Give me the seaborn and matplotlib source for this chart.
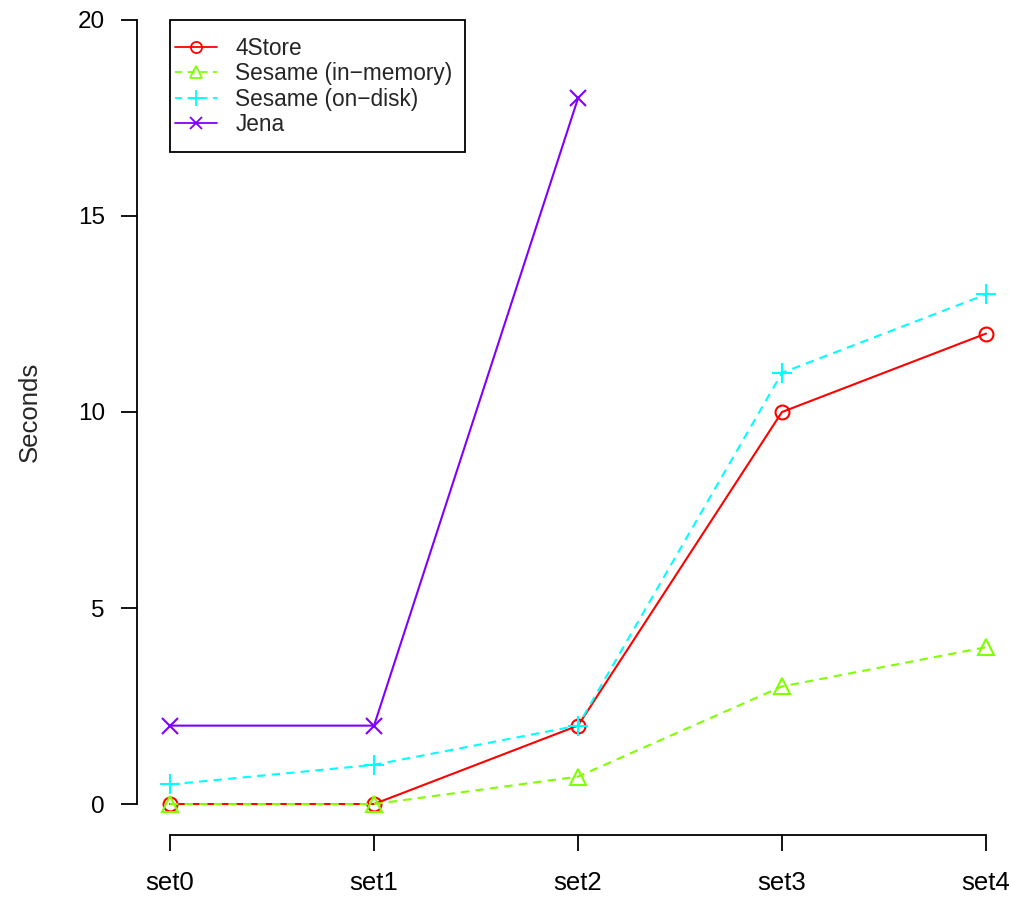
import numpy as np
import pandas as pd
import matplotlib
matplotlib.use("Agg")
import matplotlib.pyplot as plt
import seaborn as sns
from matplotlib.lines import Line2D
from matplotlib.patches import Rectangle

sets = ["set0", "set1", "set2", "set3", "set4"]
store4 = [0, 0, 2, 10, 12]
sesame_mem = [0, 0, 0.7, 3, 4]
sesame_disk = [0.5, 1, 2, 11, 13]
jena = [2, 2, 18, np.nan, np.nan]

series_names = ["4Store", "Sesame (in\u2212memory)", "Sesame (on\u2212disk)", "Jena"]
series_vals = [store4, sesame_mem, sesame_disk, jena]
colors = ["#FF0000", "#80FF00", "#00FFFF", "#8000FF"]
markers = ["o", "^", "+", "x"]
msizes = [10, 11, 14, 11]
styles = ["-", (0, (4, 3)), (0, (4, 3)), "-"]

sns.set_style("white")
plt.rcParams["font.family"] = ["Liberation Sans", "DejaVu Sans"]

W, H = 1012, 902
fig = plt.figure(figsize=(W / 100, H / 100), dpi=100)
left, right, bottom, top = 137.4, 1018.6, 835.4, -11.4
ax = fig.add_axes([left / W, 1 - bottom / H, (right - left) / W, (bottom - top) / H])
ax.set_facecolor("none")

xpos = np.arange(len(sets))
for name, vals, c, m, ms, ls in zip(series_names, series_vals, colors, markers, msizes, styles):
    df = pd.DataFrame({"x": xpos, "y": vals}).dropna()
    sns.lineplot(data=df, x="x", y="y", ax=ax, color=c, marker=m, markersize=ms,
                 markerfacecolor="none", markeredgecolor=c, markeredgewidth=1.5,
                 linestyle=ls, linewidth=1.5, label=None, legend=False)

ax.set_xlim(-0.16, 4.16)
ax.set_ylim(-0.8, 20.8)
ax.set_xticks(xpos)
ax.set_xticklabels(sets)
ax.set_yticks([0, 5, 10, 15, 20])
ax.set_yticklabels(["0", "5", "10", "15", "20"])
ax.set_xlabel("")
ax.set_ylabel("")

for s in ["top", "right"]:
    ax.spines[s].set_visible(False)
for s in ["left", "bottom"]:
    ax.spines[s].set_visible(True)
    ax.spines[s].set_color("black")
    ax.spines[s].set_linewidth(1.3)
ax.spines["left"].set_bounds(0, 20)
ax.spines["bottom"].set_bounds(0, 4)
ax.tick_params(axis="both", which="major", direction="out", length=11.5, width=1.3,
               color="black", labelcolor="black", left=True, bottom=True)
ax.tick_params(axis="y", pad=12, labelsize=17.5)
ax.tick_params(axis="x", pad=14, labelsize=18.5)
ax.grid(False)

fig.text(30 / W, 1 - 412 / H, "Seconds", rotation=90, ha="center", va="center", fontsize=18.5)

# legend box
fig.patches.append(Rectangle((170 / W, 1 - 152 / H), (465 - 170) / W, (152 - 20) / H,
                             transform=fig.transFigure, facecolor="white", edgecolor="black",
                             linewidth=1.3, zorder=4))

handles = [Line2D([0], [0], color=c, marker=m, markersize=ms * 0.8, markerfacecolor="none",
                  markeredgecolor=c, markeredgewidth=1.3, linestyle=ls, linewidth=1.3)
           for c, m, ms, ls in zip(colors, markers, msizes, styles)]
leg = fig.legend(handles, series_names, loc="upper left", bbox_to_anchor=(175 / W, 1 - 37 / H),
                 bbox_transform=fig.transFigure, frameon=False, fontsize=16.3,
                 borderaxespad=0, borderpad=0, handlelength=1.86, handletextpad=0.8,
                 labelspacing=0.1)
leg.set_zorder(5)

fig.savefig("out.png", dpi=100)
